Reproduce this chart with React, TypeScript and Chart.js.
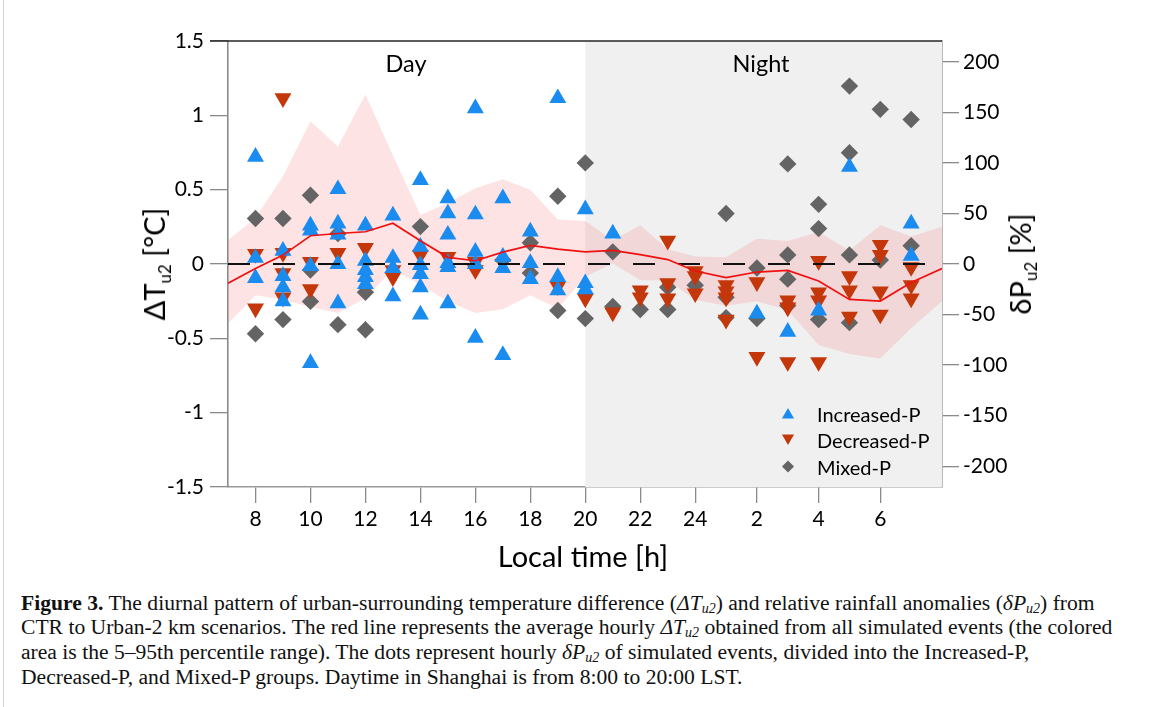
import React, { useEffect, useRef } from "react";
import { Chart, registerables } from "chart.js";

Chart.register(...registerables);

// ---------------- DATA ----------------
// hours of the marker columns (24 = midnight, 25..31 = 1..7 h next day)
const hours = [8, 9, 10, 11, 12, 13, 14, 15, 16, 17, 18, 19, 20, 21, 22, 23, 24, 25, 26, 27, 28, 29, 30, 31];

// δP_u2 [%] of individual events per hour
const increasedP: number[][] = [
  [106, 6, -14],
  [13, -12, -23, -37],
  [38, 33, -2, -98],
  [74, 40, 29, 0, -39],
  [38, 3, -6, -13, -20],
  [48, 6, -4, -32],
  [83, 17, -1, -10, -23, -50],
  [65, 50, 29, 1, -3, -39],
  [154, 49, 12, 0, -73],
  [65, 7, -4, -90],
  [32, 1, -15],
  [164, -13, -26],
  [54, -19, -25],
  [30],
  [],
  [],
  [],
  [],
  [-49],
  [-67],
  [-46],
  [96],
  [],
  [40, 8],
];

const decreasedP: number[][] = [
  [10, -44],
  [164, 11, -9, -33],
  [2, -25],
  [11],
  [16],
  [-6, -13],
  [9],
  [7],
  [2, -6],
  [],
  [],
  [-22],
  [-34],
  [-48],
  [-26, -33],
  [23, -19, -34],
  [-7, -12, -29],
  [-21, -27, -33, -55],
  [-18, -92],
  [-36, -43, -97],
  [3, -28, -36, -97],
  [-12, -26, -52],
  [19, 9, -27, -50],
  [-3, -21, -34],
];

const mixedP: number[][] = [
  [45, -69],
  [45, -55],
  [68, -6, -37],
  [30, -60],
  [-28, -65],
  [],
  [37],
  [],
  [],
  [4],
  [21, -9],
  [67, -46],
  [100, -54],
  [12, -42],
  [-45],
  [-23, -45],
  [-21],
  [50, -33, -53],
  [-4, -54],
  [99, 9, -15, -41],
  [59, 35, -55],
  [176, 110, 9, -58],
  [153, 4],
  [143, 18],
];

// hourly ΔT_u2 [°C]: mean and 5–95th percentile band
const lineHours = [7, 8, 9, 10, 11, 12, 13, 14, 15, 16, 17, 18, 19, 20, 21, 22, 23, 24, 25, 26, 27, 28, 29, 30, 31, 32];
const meanDT = [-0.13, -0.03, 0.06, 0.19, 0.205, 0.217, 0.274, 0.157, 0.045, 0.022, 0.08, 0.125, 0.1, 0.082, 0.092, 0.063, 0.03, -0.047, -0.092, -0.054, -0.043, -0.114, -0.238, -0.249, -0.125, -0.03];
const p95DT = [0.16, 0.31, 0.59, 0.96, 0.79, 1.14, 0.73, 0.33, 0.41, 0.51, 0.57, 0.5, 0.3, 0.29, 0.16, 0.26, 0.1, 0.05, 0.045, 0.17, 0.155, 0.215, 0.09, 0.26, 0.185, 0.25];
const p5DT = [-0.4, -0.21, -0.24, -0.29, -0.33, -0.23, -0.035, -0.14, -0.25, -0.33, -0.305, -0.21, -0.3, -0.085, 0.005, -0.11, -0.11, -0.24, -0.28, -0.25, -0.31, -0.545, -0.605, -0.635, -0.43, -0.25];

const zeroLine = [0, 0];
const zeroLineHours = [7, 32];

const xTickHours = [8, 10, 12, 14, 16, 18, 20, 22, 24, 26, 28, 30];
const xTickLabels = ["8", "10", "12", "14", "16", "18", "20", "22", "24", "2", "4", "6"];
const yLeftTicks = [-1.5, -1, -0.5, 0, 0.5, 1, 1.5];
const yRightTicks = [-200, -150, -100, -50, 0, 50, 100, 150, 200];

const dayStart = 7;
const nightStart = 20;
const dayEnd = 32;

// night hours are drawn a little wider in the original figure
const NIGHT_STRETCH = 1.1224;
const warp = (h: number) => (h <= 24 ? h : 24 + (h - 24) * NIGHT_STRETCH);

const BLUE = "#1a8cf0";
const RED = "#c3370a";
const GREY = "#646464";
const FONT = "Lato, 'Open Sans', sans-serif";
const SERIF = "'Liberation Serif', 'Times New Roman', serif";

function points(groups: number[][]) {
  const out: { x: number; y: number }[] = [];
  groups.forEach((vals, i) => vals.forEach((v) => out.push({ x: warp(hours[i]), y: v })));
  return out;
}

function drawTri(ctx: CanvasRenderingContext2D, x: number, y: number, r: number, down: boolean) {
  const s = down ? -1 : 1;
  ctx.beginPath();
  ctx.moveTo(x, y - s * r);
  ctx.lineTo(x + r * 0.866, y + s * r * 0.5);
  ctx.lineTo(x - r * 0.866, y + s * r * 0.5);
  ctx.closePath();
  ctx.fill();
}

const decorPlugin = {
  id: "decor",
  beforeDatasetsDraw(chart: any) {
    const { ctx, chartArea, scales } = chart;
    const xs = scales.x;
    const x0 = xs.getPixelForValue(warp(nightStart));
    ctx.save();
    ctx.fillStyle = "#f0f0f0";
    ctx.fillRect(x0, chartArea.top, chartArea.right - x0, chartArea.bottom - chartArea.top);
    ctx.restore();
  },
  afterDraw(chart: any) {
    const { ctx, chartArea } = chart;
    ctx.save();
    // top frame line
    ctx.strokeStyle = "#262626";
    ctx.lineWidth = 1.6;
    ctx.beginPath();
    ctx.moveTo(chartArea.left - 18, chartArea.top);
    ctx.lineTo(chartArea.right, chartArea.top);
    ctx.stroke();
    // legend symbols
    const lx = 788;
    ctx.fillStyle = BLUE;
    drawTri(ctx, lx, 415, 7, false);
    ctx.fillStyle = RED;
    drawTri(ctx, lx, 438, 7, true);
    ctx.fillStyle = GREY;
    ctx.beginPath();
    ctx.moveTo(lx, 460.5);
    ctx.lineTo(lx + 6, 466.5);
    ctx.lineTo(lx, 472.5);
    ctx.lineTo(lx - 6, 466.5);
    ctx.closePath();
    ctx.fill();
    ctx.restore();
  },
};

function ChartCanvas() {
  const ref = useRef<HTMLCanvasElement | null>(null);
  useEffect(() => {
    if (!ref.current) return;
    const xMin = warp(dayStart);
    const xMax = warp(dayEnd);
    const chart = new Chart(ref.current, {
      type: "scatter",
      data: {
        datasets: [
          {
            type: "line",
            label: "mean",
            data: lineHours.map((h, i) => ({ x: warp(h), y: meanDT[i] })),
            yAxisID: "y",
            borderColor: "#f01010",
            borderWidth: 1.7,
            pointRadius: 0,
            showLine: true,
            fill: false,
            order: 0,
          },
          {
            type: "line",
            label: "zero",
            data: zeroLineHours.map((h, i) => ({ x: warp(h), y: zeroLine[i] })),
            yAxisID: "y",
            borderColor: "#111111",
            borderWidth: 1.8,
            borderDash: [22, 23],
            pointRadius: 0,
            showLine: true,
            fill: false,
            order: 1,
          },
          {
            label: "Increased-P",
            data: points(increasedP),
            yAxisID: "y2",
            pointStyle: "triangle",
            pointRadius: 9.8,
            backgroundColor: BLUE,
            borderWidth: 0,
            order: 2,
          },
          {
            label: "Decreased-P",
            data: points(decreasedP),
            yAxisID: "y2",
            pointStyle: "triangle",
            rotation: 180,
            pointRadius: 9.8,
            backgroundColor: RED,
            borderWidth: 0,
            order: 3,
          },
          {
            label: "Mixed-P",
            data: points(mixedP),
            yAxisID: "y2",
            pointStyle: "rectRot",
            pointRadius: 8.7,
            backgroundColor: GREY,
            borderWidth: 0,
            order: 4,
          },
          {
            type: "line",
            label: "p95",
            data: lineHours.map((h, i) => ({ x: warp(h), y: p95DT[i] })),
            yAxisID: "y",
            borderColor: "rgba(0,0,0,0)",
            borderWidth: 1,
            pointRadius: 0,
            showLine: true,
            fill: "+1",
            backgroundColor: "rgba(245,115,115,0.2)",
            order: 5,
          },
          {
            type: "line",
            label: "p5",
            data: lineHours.map((h, i) => ({ x: warp(h), y: p5DT[i] })),
            yAxisID: "y",
            borderColor: "rgba(0,0,0,0)",
            borderWidth: 1,
            pointRadius: 0,
            showLine: true,
            fill: false,
            order: 6,
          },
        ],
      } as any,
      options: {
        animation: false,
        responsive: false,
        maintainAspectRatio: false,
        layout: { padding: { top: 41, left: 0, right: 0, bottom: 0 } },
        plugins: { legend: { display: false }, tooltip: { enabled: false } },
        scales: {
          x: {
            type: "linear",
            min: xMin,
            max: xMax,
            afterBuildTicks: (s: any) => {
              s.ticks = xTickHours.map((h) => ({ value: warp(h) }));
            },
            afterFit: (s: any) => {
              s.height = 93;
            },
            ticks: {
              autoSkip: false,
              maxRotation: 0,
              padding: 4,
              color: "#000",
              font: { family: FONT, size: 21 },
              callback: (_v: any, i: number) => xTickLabels[i],
            },
            grid: { drawOnChartArea: false, drawTicks: true, tickLength: 16, color: "#8a8a8a", lineWidth: 1.3 },
            border: { display: true, color: "#9a9a9a", width: 1.6 },
          },
          y: {
            type: "linear",
            position: "left",
            min: -1.5,
            max: 1.5,
            afterBuildTicks: (s: any) => {
              s.ticks = yLeftTicks.map((v) => ({ value: v }));
            },
            afterFit: (s: any) => {
              s.width = 228;
            },
            ticks: {
              padding: 6,
              color: "#000",
              font: { family: FONT, size: 21 },
              callback: (v: any) => String(v),
            },
            grid: { drawOnChartArea: false, drawTicks: true, tickLength: 18, color: "#8a8a8a", lineWidth: 1.3 },
            border: { display: true, color: "#8a8a8a", width: 1.6 },
          },
          y2: {
            type: "linear",
            position: "right",
            min: -220.6,
            max: 220.6,
            afterBuildTicks: (s: any) => {
              s.ticks = yRightTicks.map((v) => ({ value: v }));
            },
            afterFit: (s: any) => {
              s.width = 223;
            },
            ticks: {
              padding: 4,
              color: "#000",
              font: { family: FONT, size: 21 },
              callback: (v: any) => String(v),
            },
            grid: { drawOnChartArea: false, drawTicks: true, tickLength: 17, color: "#8a8a8a", lineWidth: 1.3 },
            border: { display: true, color: "#8a8a8a", width: 1.6 },
          },
        },
      } as any,
      plugins: [decorPlugin],
    });
    return () => chart.destroy();
  }, []);
  return <canvas ref={ref} width={1165} height={580} style={{ position: "absolute", left: 0, top: 0, width: 1165, height: 580 }} />;
}

const abs = (x: number, y: number, extra: React.CSSProperties = {}): React.CSSProperties => ({
  position: "absolute",
  left: x,
  top: y,
  whiteSpace: "nowrap",
  fontFamily: FONT,
  color: "#000",
  lineHeight: 1,
  ...extra,
});

const capLine = (i: number): React.CSSProperties => ({
  position: "absolute",
  left: 21,
  top: 590.5 + i * 24.7,
  height: 24.7,
  lineHeight: "24.7px",
  fontFamily: SERIF,
  fontSize: 21.6,
  color: "#111",
  whiteSpace: "nowrap",
});

export default function App() {
  const subStyle: React.CSSProperties = { fontSize: 17, verticalAlign: "-6px" };
  const capSub: React.CSSProperties = { fontSize: 14, verticalAlign: "-3px", lineHeight: 0 };
  return (
    <div style={{ position: "absolute", left: 0, top: 0, width: 1165, height: 707, background: "#fff", overflow: "hidden" }}>
      <div style={{ position: "absolute", left: 3, top: 0, width: 1, height: 707, background: "#d4d4d4" }} />
      <ChartCanvas />
      <div style={abs(406, 64, { fontSize: 23.5, transform: "translate(-50%,-50%)" })}>Day</div>
      <div style={abs(761, 64, { fontSize: 23.5, transform: "translate(-50%,-50%)" })}>Night</div>
      <div style={abs(817, 414, { fontSize: 20, transform: "translateY(-50%)" })}>Increased-P</div>
      <div style={abs(817, 440, { fontSize: 20, transform: "translateY(-50%)" })}>Decreased-P</div>
      <div style={abs(817, 467, { fontSize: 20, transform: "translateY(-50%)" })}>Mixed-P</div>
      <div style={abs(583, 555, { fontSize: 29, transform: "translate(-50%,-50%)" })}>Local time [h]</div>
      <div style={abs(156, 264, { fontSize: 29, transform: "translate(-50%,-50%) rotate(-90deg)" })}>
        ΔT<span style={subStyle}>u2</span> [°C]
      </div>
      <div style={abs(1022, 264, { fontSize: 29, transform: "translate(-50%,-50%) rotate(-90deg)" })}>
        δP<span style={subStyle}>u2</span> [%]
      </div>
      <div style={capLine(0)}>
        <b>Figure 3.</b> The diurnal pattern of urban-surrounding temperature difference (<i>ΔT</i>
        <i style={capSub}>u2</i>) and relative rainfall anomalies (<i>δP</i>
        <i style={capSub}>u2</i>) from
      </div>
      <div style={capLine(1)}>
        CTR to Urban-2 km scenarios. The red line represents the average hourly <i>ΔT</i>
        <i style={capSub}>u2</i> obtained from all simulated events (the colored
      </div>
      <div style={capLine(2)}>
        area is the 5–95th percentile range). The dots represent hourly <i>δP</i>
        <i style={capSub}>u2</i> of simulated events, divided into the Increased-P,
      </div>
      <div style={capLine(3)}>Decreased-P, and Mixed-P groups. Daytime in Shanghai is from 8:00 to 20:00 LST.</div>
    </div>
  );
}
